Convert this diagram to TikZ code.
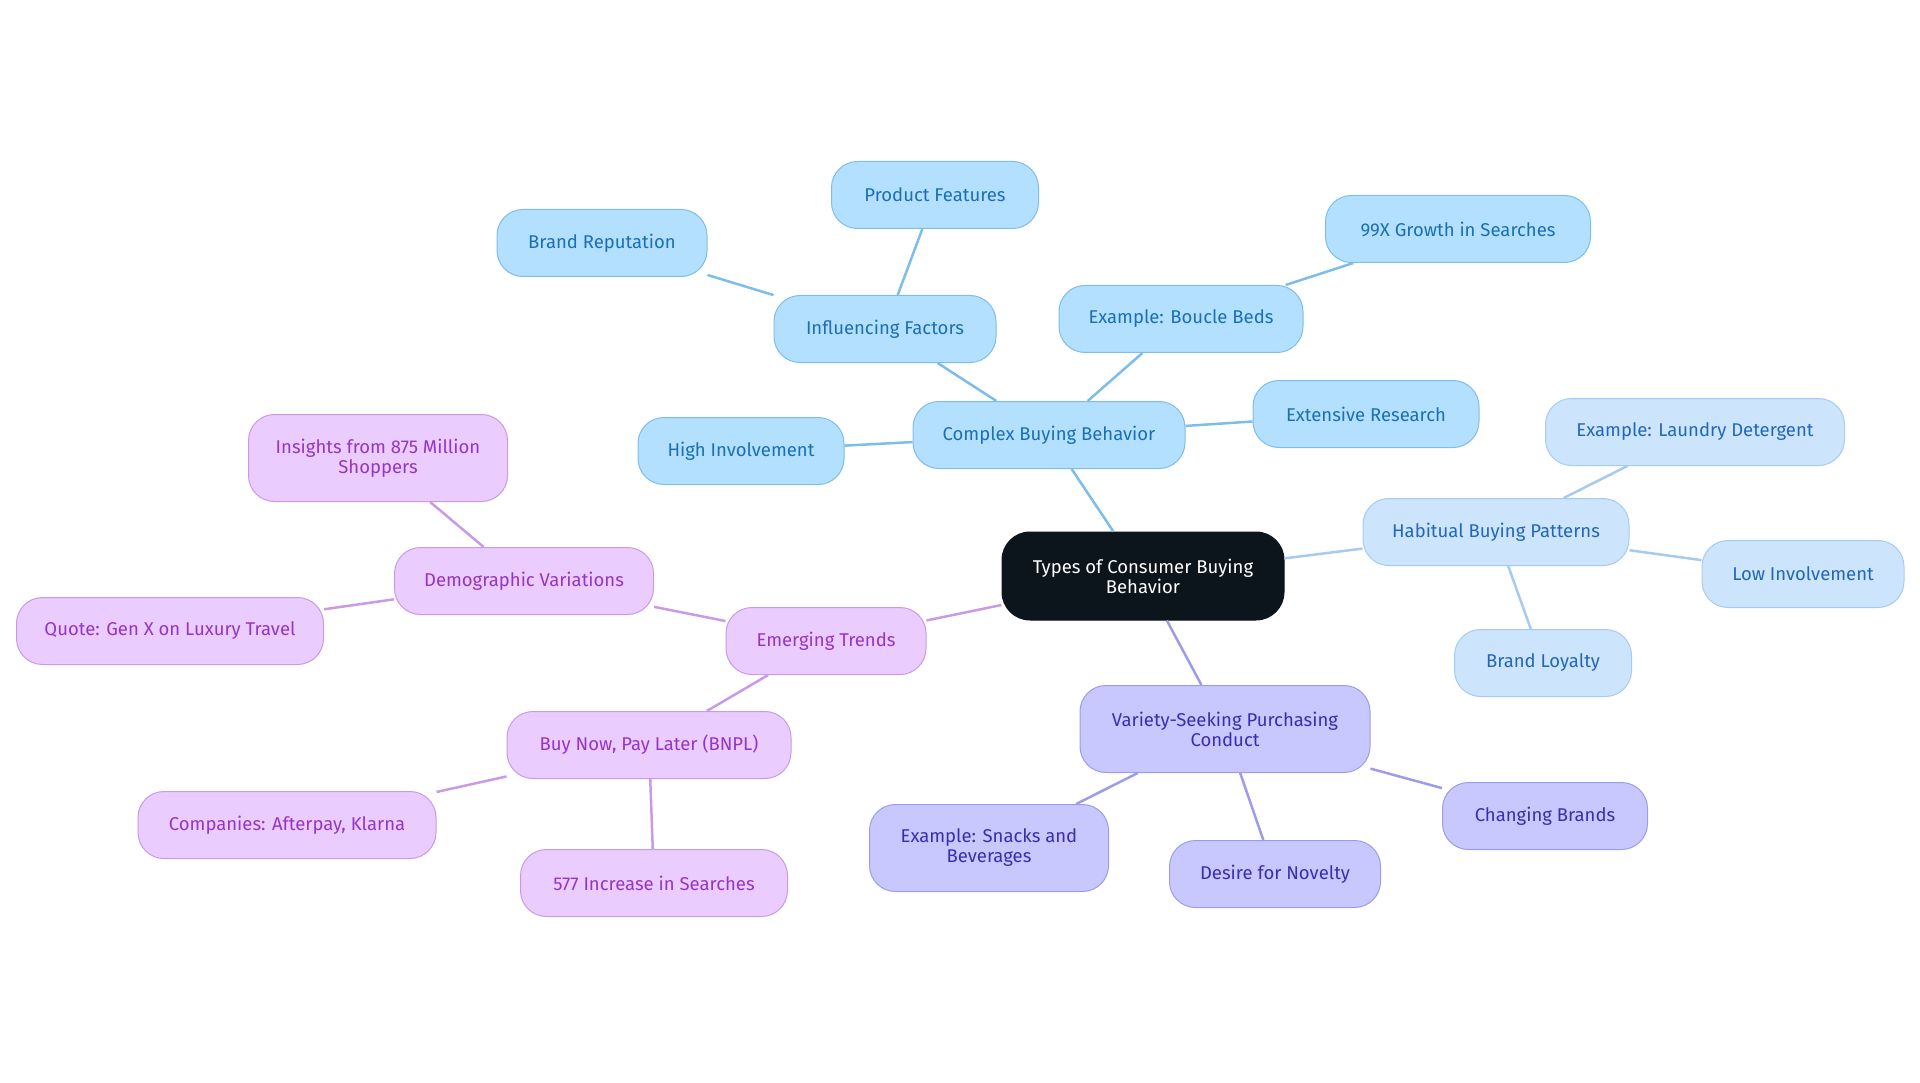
\documentclass[tikz,border=0pt]{standalone}
\usepackage{fontspec}
\setmainfont{Fira Sans}
\definecolor{rootfill}{HTML}{0C141C}
\definecolor{cbfill}{HTML}{B3E0FF}
\definecolor{cbdraw}{HTML}{7DBDEA}
\definecolor{cbtext}{HTML}{1A6FB5}
\definecolor{hbfill}{HTML}{CCE4FC}
\definecolor{hbdraw}{HTML}{A7CBF0}
\definecolor{hbtext}{HTML}{2367B8}
\definecolor{vsfill}{HTML}{C8C8FF}
\definecolor{vsdraw}{HTML}{9C9CE8}
\definecolor{vstext}{HTML}{3B2DB0}
\definecolor{etfill}{HTML}{EACCFE}
\definecolor{etdraw}{HTML}{C89AE8}
\definecolor{ettext}{HTML}{9535C6}
\tikzset{
	mnode/.style={rounded corners=26, line width=1, align=center, inner sep=3, minimum height=67, font=\fontsize{18.5}{20}\selectfont},
	rootnode/.style={mnode, fill=rootfill, draw=rootfill, text=white, rounded corners=28},
	cbnode/.style={mnode, fill=cbfill, draw=cbdraw, text=cbtext},
	hbnode/.style={mnode, fill=hbfill, draw=hbdraw, text=hbtext},
	vsnode/.style={mnode, fill=vsfill, draw=vsdraw, text=vstext},
	etnode/.style={mnode, fill=etfill, draw=etdraw, text=ettext},
	cbline/.style={draw=cbdraw, line width=2.5},
	hbline/.style={draw=hbdraw, line width=2.5},
	vsline/.style={draw=vsdraw, line width=2.5},
	etline/.style={draw=etdraw, line width=2.5}
}
\begin{document}
\begin{tikzpicture}[x=1pt, y=-1pt]
		\useasboundingbox (0, 0) rectangle (1920, 1083);
		
		\node[rootnode, minimum width=282, minimum height=88] (root) at (1143, 576) {Types of Consumer Buying\\Behavior};
		
		\node[cbnode, minimum width=272] (cbb) at (1049, 435) {Complex Buying Behavior};
		\node[cbnode, minimum width=206] (hinv) at (741, 451) {High Involvement};
		\node[cbnode, minimum width=222] (infl) at (885, 329) {Influencing Factors};
		\node[cbnode, minimum width=210] (brep) at (602, 243) {Brand Reputation};
		\node[cbnode, minimum width=207] (pfeat) at (935, 195) {Product Features};
		\node[cbnode, minimum width=244] (boucle) at (1181, 319) {Example: Boucle Beds};
		\node[cbnode, minimum width=265] (growth) at (1458, 229) {99X Growth in Searches};
		\node[cbnode, minimum width=226] (exres) at (1366, 414) {Extensive Research};
		
		\node[hbnode, minimum width=266] (hab) at (1496, 532) {Habitual Buying Patterns};
		\node[hbnode, minimum width=299] (laundry) at (1695, 432) {Example: Laundry Detergent};
		\node[hbnode, minimum width=202] (linv) at (1803, 574) {Low Involvement};
		\node[hbnode, minimum width=177] (bloy) at (1543, 663) {Brand Loyalty};
		
		\node[vsnode, minimum width=290, minimum height=87] (var) at (1225, 729) {Variety-Seeking Purchasing\\Conduct};
		\node[vsnode, minimum width=239, minimum height=87] (snacks) at (989, 848) {Example: Snacks and\\Beverages};
		\node[vsnode, minimum width=211] (novel) at (1275, 874) {Desire for Novelty};
		\node[vsnode, minimum width=205] (chbr) at (1545, 816) {Changing Brands};
		
		\node[etnode, minimum width=200] (emtr) at (826, 641) {Emerging Trends};
		\node[etnode, minimum width=259] (demo) at (524, 581) {Demographic Variations};
		\node[etnode, minimum width=259, minimum height=87] (insig) at (378, 458) {Insights from 875 Million\\Shoppers};
		\node[etnode, minimum width=307] (genx) at (170, 631) {Quote: Gen X on Luxury Travel};
		\node[etnode, minimum width=284] (bnpl) at (649, 745) {Buy Now, Pay Later (BNPL)};
		\node[etnode, minimum width=298] (comp) at (287, 825) {Companies: Afterpay, Klarna};
		\node[etnode, minimum width=267] (incr) at (654, 883) {577 Increase in Searches};
		
		\path[cbline] (root) -- (cbb);
		\path[cbline] (cbb) -- (hinv);
		\path[cbline] (cbb) -- (infl);
		\path[cbline] (infl) -- (brep);
		\path[cbline] (infl) -- (pfeat);
		\path[cbline] (cbb) -- (boucle);
		\path[cbline] (boucle) -- (growth);
		\path[cbline] (cbb) -- (exres);
		
		\path[hbline] (root) -- (hab);
		\path[hbline] (hab) -- (laundry);
		\path[hbline] (hab) -- (linv);
		\path[hbline] (hab) -- (bloy);
		
		\path[vsline] (root) -- (var);
		\path[vsline] (var) -- (snacks);
		\path[vsline] (var) -- (novel);
		\path[vsline] (var) -- (chbr);
		
		\path[etline] (root) -- (emtr);
		\path[etline] (emtr) -- (demo);
		\path[etline] (demo) -- (insig);
		\path[etline] (demo) -- (genx);
		\path[etline] (emtr) -- (bnpl);
		\path[etline] (bnpl) -- (comp);
		\path[etline] (bnpl) -- (incr);
	\end{tikzpicture}
\end{document}
